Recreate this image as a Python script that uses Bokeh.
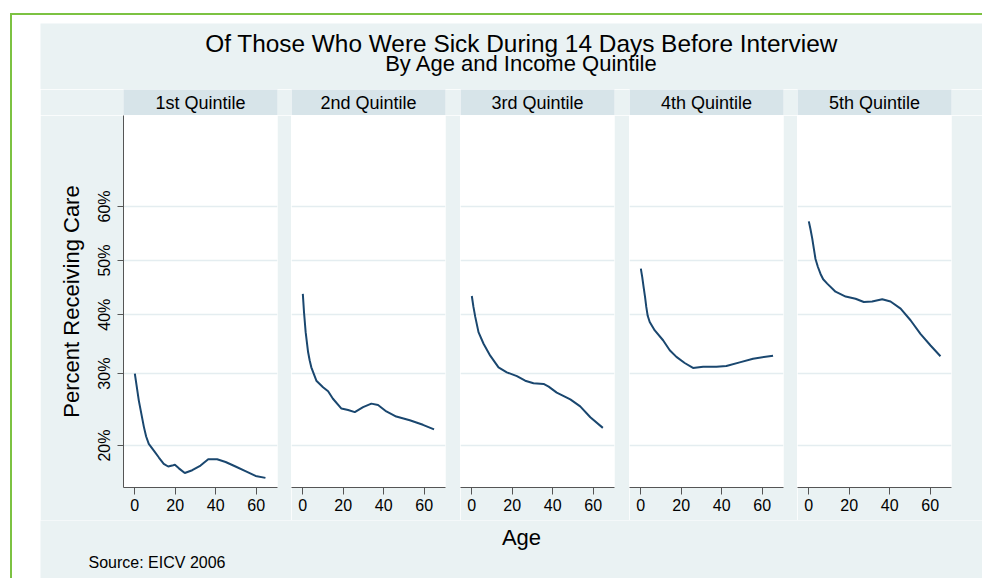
import math
from bokeh.plotting import figure
from bokeh.layouts import row, column
from bokeh.models import (FixedTicker, CustomJSTickFormatter, Label, Range1d)
from bokeh.embed import file_html
from bokeh.resources import INLINE

# ---- data ----
quintiles = ["1st Quintile", "2nd Quintile", "3rd Quintile", "4th Quintile", "5th Quintile"]

q1_age = [0, 2, 4.5, 5.6, 6.9, 9.4, 11.9, 14.3, 16.5, 18.5, 19.8, 21.8, 24.7, 28.4, 32.5, 36.3, 40.7, 44.9, 49.8, 54.7, 59.7, 64.6]
q1_pct = [30.0, 25.9, 22.3, 21.1, 20.2, 19.4, 18.6, 17.9, 17.6, 17.7, 17.8, 17.4, 16.9, 17.2, 17.7, 18.4, 18.4, 18.1, 17.6, 17.1, 16.6, 16.4]

q2_age = [0, 0.6, 1.4, 2.6, 3.4, 4.2, 6.7, 10.0, 12.5, 14.9, 19.1, 22.4, 25.7, 29.8, 33.9, 37.2, 41.3, 46.2, 52.9, 59.4, 64.9]
q2_pct = [43.8, 40.4, 36.9, 33.5, 32.1, 31.0, 28.9, 27.9, 27.3, 26.2, 24.8, 24.6, 24.3, 25.0, 25.5, 25.3, 24.4, 23.7, 23.2, 22.6, 22.0]

q3_age = [0, 0.8, 1.7, 3.3, 5.8, 9.1, 13.2, 17.3, 22.3, 26.4, 30.5, 35.5, 38.0, 42.0, 48.7, 53.6, 58.6, 64.8]
q3_pct = [43.4, 41.4, 39.6, 36.9, 34.9, 32.9, 31.0, 30.2, 29.6, 28.9, 28.5, 28.4, 28.0, 27.1, 26.1, 25.1, 23.6, 22.2]

q4_age = [0, 0.7, 1.4, 2.1, 2.7, 3.4, 4.4, 6.9, 11.0, 14.3, 17.6, 21.7, 25.8, 30.8, 37.4, 42.3, 48.9, 55.5, 65.4]
q4_pct = [48.5, 46.9, 45.0, 43.2, 41.4, 39.8, 38.7, 37.2, 35.5, 33.8, 32.7, 31.7, 30.9, 31.1, 31.1, 31.2, 31.8, 32.4, 32.9]

q5_age = [0, 0.8, 1.7, 2.5, 3.3, 4.5, 5.8, 7.1, 9.1, 13.2, 18.2, 23.1, 27.2, 31.3, 36.3, 40.4, 45.4, 50.3, 55.2, 60.2, 65.1]
q5_pct = [57.3, 55.9, 54.1, 52.2, 50.3, 48.8, 47.5, 46.5, 45.7, 44.2, 43.3, 42.9, 42.3, 42.4, 42.8, 42.4, 41.1, 39.0, 36.6, 34.6, 32.8]

x_ticks = [0, 20, 40, 60]
y_tick_pct = [20, 30, 40, 50, 60]

title_1 = "Of Those Who Were Sick During 14 Days Before Interview"
title_2 = "By Age and Income Quintile"
y_title = "Percent Receiving Care"
x_title = "Age"
source_note = "Source: EICV 2006"

# ---- style ----
BG = "#EAF2F3"
STRIP = "#D7E4E9"
NAVY = "#1A476F"
AXIS = "#555555"
GRID = "#E4EDF0"
FONT = "Liberation Sans"


def logit(pct):
    return math.log(pct / (100.0 - pct))


Y0, Y1 = -1.701, 1.0877
X0, X1 = -5.6, 70.56
y_tick_pos = [logit(v) for v in y_tick_pct]

ages = [q1_age, q2_age, q3_age, q4_age, q5_age]
pcts = [q1_pct, q2_pct, q3_pct, q4_pct, q5_pct]
rights = [14, 15, 15, 14, 31]

columns = []
for i, name in enumerate(quintiles):
    left = 83 if i == 0 else 0

    # strip header
    h = figure(frame_width=154, frame_height=26, x_range=Range1d(0, 1), y_range=Range1d(0, 1),
               output_backend="svg", toolbar_location=None,
               x_axis_location=None, y_axis_location=None,
               min_border_left=left, min_border_right=rights[i],
               min_border_top=0, min_border_bottom=0,
               background_fill_color=STRIP, border_fill_color=BG, outline_line_color=None)
    h.grid.visible = False
    h.add_layout(Label(x=0.5, y=0.5, text=name, text_align="center", text_baseline="middle",
                       text_font=FONT, text_font_size="18px", text_color="black"))

    p = figure(frame_width=154, frame_height=372,
               x_range=Range1d(X0, X1), y_range=Range1d(Y0, Y1),
               output_backend="svg", toolbar_location=None,
               y_axis_location="left" if i == 0 else None,
               min_border_left=left, min_border_right=rights[i],
               min_border_top=0, min_border_bottom=33,
               background_fill_color="white", border_fill_color=BG,
               outline_line_color=None)
    p.xgrid.visible = False
    p.ygrid.ticker = FixedTicker(ticks=y_tick_pos)
    p.ygrid.grid_line_color = GRID
    p.ygrid.grid_line_width = 1.6

    p.xaxis.ticker = FixedTicker(ticks=x_ticks)
    p.xaxis.axis_line_color = AXIS
    p.xaxis.major_tick_line_color = AXIS
    p.xaxis.minor_tick_line_color = None
    p.xaxis.major_tick_in = 0
    p.xaxis.major_tick_out = 7
    p.xaxis.major_label_standoff = 4
    p.xaxis.major_label_text_font = FONT
    p.xaxis.major_label_text_font_size = "16px"
    p.xaxis.major_label_text_color = "black"

    if i == 0:
        p.yaxis.ticker = FixedTicker(ticks=y_tick_pos)
        p.yaxis.formatter = CustomJSTickFormatter(
            code="return Math.round(100/(1+Math.exp(-tick))) + '%';")
        p.yaxis.axis_line_color = AXIS
        p.yaxis.major_tick_line_color = AXIS
        p.yaxis.minor_tick_line_color = None
        p.yaxis.major_tick_in = 0
        p.yaxis.major_tick_out = 6
        p.yaxis.major_label_standoff = 4
        p.yaxis.major_label_orientation = "parallel"
        p.yaxis.major_label_text_font = FONT
        p.yaxis.major_label_text_font_size = "16px"
        p.yaxis.major_label_text_color = "black"
        p.yaxis.axis_label = y_title
        p.yaxis.axis_label_text_font = FONT
        p.yaxis.axis_label_text_font_size = "22px"
        p.yaxis.axis_label_text_font_style = "normal"
        p.yaxis.axis_label_text_color = "black"
        p.yaxis.axis_label_standoff = 10

    p.line(ages[i], [logit(v) for v in pcts[i]], line_color=NAVY, line_width=2)
    columns.append(column(h, p, spacing=0))


def text_fig(height):
    f = figure(width=942, height=height, x_range=Range1d(0, 942), y_range=Range1d(0, height),
               output_backend="svg", toolbar_location=None,
               x_axis_location=None, y_axis_location=None, min_border=0,
               background_fill_color=BG, border_fill_color=BG, outline_line_color=None)
    f.grid.visible = False
    return f


top = text_fig(66)
top.add_layout(Label(x=481, y=46, text=title_1, text_align="center", text_baseline="middle",
                     text_font=FONT, text_font_size="24.4px", text_color="black"))
top.add_layout(Label(x=481, y=26, text=title_2, text_align="center", text_baseline="middle",
                     text_font=FONT, text_font_size="22px", text_color="black"))

bottom = text_fig(58)
bottom.add_layout(Label(x=481, y=41, text=x_title, text_align="center", text_baseline="middle",
                        text_font=FONT, text_font_size="22px", text_color="black"))
bottom.add_layout(Label(x=48, y=16, text=source_note, text_align="left", text_baseline="middle",
                        text_font=FONT, text_font_size="16px", text_color="black"))

inner = column(top, row(*columns, spacing=0), bottom, spacing=0)
layout = column(inner, styles={
    "border-left": "2px solid #7CC242",
    "border-top": "2px solid #7CC242",
    "padding-left": "28px",
    "padding-top": "8px",
    "margin-left": "10px",
    "margin-top": "13px",
})

open("out.html", "w").write(file_html(layout, INLINE))
